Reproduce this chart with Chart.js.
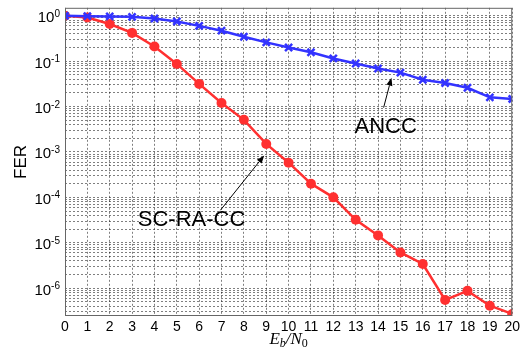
<!DOCTYPE html>
<html>
<head>
<meta charset="utf-8">
<script src="https://cdn.jsdelivr.net/npm/chart.js@4.4.0/dist/chart.umd.min.js"></script>
<style>
html,body{margin:0;padding:0;background:#fff;}
#wrap{width:523px;height:352px;position:relative;}
</style>
</head>
<body>
<div id="wrap"><canvas id="myChart"></canvas></div>
<script>
// Eb/N0 points
const ebn0=[0,1,2,3,4,5,6,7,8,9,10,11,12,13,14,15,16,17,18,19,20];
// FER
const ferAncc=[1.0,0.98,0.97,0.95,0.87,0.75,0.60,0.47,0.345,0.26,0.20,0.157,0.115,0.089,0.069,0.056,0.039,0.033,0.026,0.016,0.0147];
const ferScRaCc=[1.0,0.92,0.66,0.42,0.21,0.087,0.0316,0.012,0.0051,0.0015,5.8e-4,2.0e-4,1.0e-4,3.2e-5,1.45e-5,6.1e-6,3.4e-6,5.5e-7,8.7e-7,4.1e-7,2.7e-7];
const seriesNames=['ANCC','SC-RA-CC'];
// labelled decades on the y axis (exponents)
const yDecades=[0,-1,-2,-3,-4,-5,-6];
const yMin=2.43e-7, yMax=1.5;

// annotations in data coordinates: text centre, arrow tail, arrow head
const annoText=['ANCC','SC-RA-CC'];
const annoTextAt=[[14.34,3.6e-3],[5.66,3.1e-5]];
const annoTail=[[14.25,9.5e-3],[6.95,5.2e-5]];
const annoHead=[[14.6,0.0434],[8.91,8.4e-4]];

const red='#ff3030';
const blue='#3333ff';
const gridCol='rgba(0,0,0,0.5)';

const toPts=(xs,ys)=>xs.map((x,i)=>({x:x,y:ys[i]}));

const minorTicks=()=>{
    let out=[];
    for(let e=-7;e<=0;e++){
        for(let m=1;m<=9;m++){
            let v=m*Math.pow(10,e);
            if(v>=yMin && v<=yMax) out.push({value:v});
        }
    }
    return out;
};

const extras={
    id:'extras',
    afterDraw(chart){
        const ctx=chart.ctx;
        const a=chart.chartArea;
        const xs=chart.scales.x, ys=chart.scales.y;
        ctx.save();
        // box round the plot
        ctx.strokeStyle='#666';
        ctx.lineWidth=1;
        ctx.strokeRect(a.left+0.5,a.top+0.5,a.right-a.left-1,a.bottom-a.top-1);

        // y tick labels 10^k
        ctx.fillStyle='#000';
        ctx.textBaseline='alphabetic';
        yDecades.forEach(d=>{
            const y=ys.getPixelForValue(Math.pow(10,d));
            const ex=d===0?'0':'-'+(-d);
            ctx.font='10px "Liberation Sans", Arial, sans-serif';
            const ew=ctx.measureText(ex).width;
            const right=a.left-5;
            ctx.textAlign='left';
            ctx.fillText(ex,right-ew,y+1);
            ctx.font='15px "Liberation Sans", Arial, sans-serif';
            ctx.textAlign='right';
            ctx.fillText('10',right-ew,y+6.5);
        });

        // x axis title E_b/N_0
        const big='italic 17px "Liberation Serif", "DejaVu Serif", serif';
        const small='italic 12px "Liberation Serif", "DejaVu Serif", serif';
        const sub0='12px "Liberation Serif", "DejaVu Serif", serif';
        const parts=[['E',big,0],['b',small,3],['/N',big,0],['0',sub0,3]];
        let tw=0;
        parts.forEach(p=>{ctx.font=p[1];tw+=ctx.measureText(p[0]).width;});
        let cx=(a.left+a.right)/2-tw/2;
        const base=a.bottom+28;
        ctx.textAlign='left';
        parts.forEach(p=>{
            ctx.font=p[1];
            ctx.fillText(p[0],cx,base+p[2]);
            cx+=ctx.measureText(p[0]).width;
        });

        // annotations with arrows
        ctx.font='22px "Liberation Sans", Arial, sans-serif';
        ctx.textAlign='center';
        ctx.textBaseline='middle';
        annoText.forEach((t,i)=>{
            ctx.fillText(t,xs.getPixelForValue(annoTextAt[i][0]),ys.getPixelForValue(annoTextAt[i][1]));
            const x1=xs.getPixelForValue(annoTail[i][0]), y1=ys.getPixelForValue(annoTail[i][1]);
            const x2=xs.getPixelForValue(annoHead[i][0]), y2=ys.getPixelForValue(annoHead[i][1]);
            const ang=Math.atan2(y2-y1,x2-x1);
            const hl=8, hw=3;
            ctx.strokeStyle='#000';
            ctx.lineWidth=1;
            ctx.beginPath();
            ctx.moveTo(x1,y1);
            ctx.lineTo(x2-hl*Math.cos(ang),y2-hl*Math.sin(ang));
            ctx.stroke();
            ctx.beginPath();
            ctx.moveTo(x2,y2);
            ctx.lineTo(x2-hl*Math.cos(ang)+hw*Math.sin(ang),y2-hl*Math.sin(ang)-hw*Math.cos(ang));
            ctx.lineTo(x2-hl*Math.cos(ang)-hw*Math.sin(ang),y2-hl*Math.sin(ang)+hw*Math.cos(ang));
            ctx.closePath();
            ctx.fill();
        });
        ctx.restore();
    }
};

const ctx=document.getElementById('myChart').getContext('2d');
const myChart=new Chart(ctx,{
    type:'line',
    data:{
        datasets:[{
            label:seriesNames[0],
            data:toPts(ebn0,ferAncc),
            borderColor:blue,
            backgroundColor:blue,
            borderWidth:2.5,
            pointStyle:'crossRot',
            pointRadius:5,
            pointBorderWidth:2.5,
            pointBorderColor:blue,
        },{
            label:seriesNames[1],
            data:toPts(ebn0,ferScRaCc),
            borderColor:red,
            backgroundColor:red,
            borderWidth:2.5,
            pointStyle:'circle',
            pointRadius:5,
            pointBorderWidth:0,
        }],
    },
    options:{
        responsive:true,
        maintainAspectRatio:false,
        animation:false,
        layout:{padding:{top:7,right:9,left:0,bottom:0}},
        plugins:{legend:{display:false},tooltip:{enabled:false}},
        scales:{
            x:{
                type:'linear',
                min:0,max:20,
                ticks:{stepSize:1,color:'#000',padding:3,font:{size:14,family:'"Liberation Sans", Arial, sans-serif'},maxRotation:0,autoSkip:false},
                grid:{color:gridCol,lineWidth:1,drawTicks:false},
                border:{display:false,dash:[2,2]},
                afterFit:(s)=>{s.height=36;},
            },
            y:{
                type:'logarithmic',
                min:yMin,max:yMax,
                afterBuildTicks:(s)=>{s.ticks=minorTicks();},
                ticks:{autoSkip:false,callback:()=>'',font:{size:8}},
                grid:{color:gridCol,lineWidth:1,drawTicks:false},
                border:{display:false,dash:[2,2]},
                title:{display:true,text:'FER',color:'#000',font:{size:17,family:'"Liberation Sans", Arial, sans-serif'},padding:{top:11,bottom:0}},
                afterFit:(s)=>{s.width=65;},
            },
        },
    },
    plugins:[extras],
});
</script>
</body>
</html>
